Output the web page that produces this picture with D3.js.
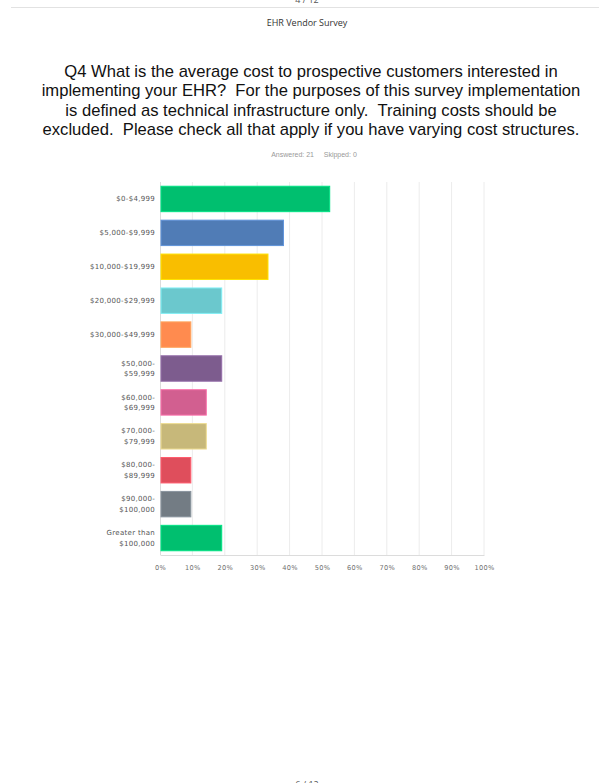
<!DOCTYPE html>
<html>
<head>
<meta charset="utf-8">
<script src="https://cdn.jsdelivr.net/npm/d3@7"></script>
<style>
  body { margin: 0; background: #fff; }
  svg { display: block; }
</style>
</head>
<body>
<script>
//==============================================================================
// DATA
//==============================================================================

// "\n" marks where the label wraps in the original
const categories = [
  '$0-$4,999', '$5,000-$9,999', '$10,000-$19,999', '$20,000-$29,999',
  '$30,000-$49,999', '$50,000-\n$59,999', '$60,000-\n$69,999',
  '$70,000-\n$79,999', '$80,000-\n$89,999', '$90,000-\n$100,000',
  'Greater than\n$100,000'
];
const values = [52.38, 38.10, 33.33, 19.05, 9.52, 19.05, 14.29, 14.29, 9.52, 9.52, 19.05];
const colors = ['#00bf6f', '#507cb6', '#f9be00', '#6bc8cd', '#ff8b4f', '#7d5c8e',
  '#d25f90', '#c7b87a', '#df4e5c', '#737c84', '#00bf6f'];
const ticks = [0, 10, 20, 30, 40, 50, 60, 70, 80, 90, 100];

const titleLines = [
  'Q4 What is the average cost to prospective customers interested in',
  'implementing your EHR?  For the purposes of this survey implementation',
  'is defined as technical infrastructure only.  Training costs should be',
  'excluded.  Please check all that apply if you have varying cost structures.'
];

//==============================================================================
// PARAMETERS
//==============================================================================

const W = 599, H = 783;
const plot = { left: 160, right: 484, top: 182, bottom: 555 };
const labelFont = '"DejaVu Sans", sans-serif';

const svg = d3.select('body').append('svg')
  .attr('width', W)
  .attr('height', H);

svg.append('rect').attr('width', W).attr('height', H).attr('fill', '#fff');

const x = d3.scaleLinear().domain([0, 100]).range([plot.left, plot.right]);
const y = d3.scaleBand().domain(categories).range([plot.top, plot.bottom])
  .paddingInner(0.25).paddingOuter(0.125);

//==============================================================================
// PAGE HEADER
//==============================================================================

// page number of the previous page, cut by the top edge as in the scan
svg.append('text')
  .attr('x', 307).attr('y', 3)
  .attr('text-anchor', 'middle')
  .style('font', '9px "Open Sans", sans-serif')
  .attr('fill', '#555')
  .text('4 / 12');

svg.append('line')
  .attr('x1', 11).attr('x2', W).attr('y1', 7.5).attr('y2', 7.5)
  .attr('stroke', '#e2e2e2');

svg.append('text')
  .attr('x', 307).attr('y', 26)
  .attr('text-anchor', 'middle')
  .style('font', '9px "Open Sans", sans-serif')
  .attr('fill', '#333')
  .text('EHR Vendor Survey');

// title
svg.append('text')
  .attr('text-anchor', 'middle')
  .style('font', '16.6px "Liberation Sans", Arial, sans-serif')
  .style('white-space', 'pre')
  .attr('fill', '#111')
  .selectAll('tspan')
  .data(titleLines)
  .enter()
  .append('tspan')
  .attr('x', 311)
  .attr('y', (d, i) => 77 + i * 19.3)
  .text(d => d);

svg.append('text')
  .attr('x', 314).attr('y', 157)
  .attr('text-anchor', 'middle')
  .style('font', '7px "Liberation Sans", Arial, sans-serif')
  .style('white-space', 'pre')
  .attr('fill', '#999')
  .text('Answered: 21     Skipped: 0');

//==============================================================================
// DRAW
//==============================================================================

// grid
svg.append('g')
  .attr('class', 'grid')
  .selectAll('line')
  .data(ticks.slice(1))
  .enter()
  .append('line')
  .attr('x1', d => x(d)).attr('x2', d => x(d))
  .attr('y1', plot.top).attr('y2', plot.bottom)
  .attr('stroke', '#ececec');

// x axis
const xAxis = svg.append('g')
  .attr('class', 'axis axis--x')
  .attr('transform', `translate(0, ${plot.bottom})`)
  .call(d3.axisBottom(x).tickValues(ticks).tickSize(0).tickPadding(10)
    .tickFormat(d => d + '%'));
xAxis.select('.domain').attr('stroke', '#dcdcdc');
xAxis.selectAll('text')
  .style('font-family', labelFont)
  .style('font-size', '6.6px')
  .style('letter-spacing', '0.3px')
  .attr('fill', '#6f6f6f');

// left axis line
svg.append('line')
  .attr('x1', plot.left + 0.5).attr('x2', plot.left + 0.5)
  .attr('y1', plot.top).attr('y2', plot.bottom)
  .attr('stroke', '#dcdcdc');

// bars
svg.append('g')
  .attr('class', 'bars')
  .selectAll('rect')
  .data(values)
  .enter()
  .append('rect')
  .attr('x', x(0) + 1)
  .attr('y', (d, i) => y(categories[i]))
  .attr('width', d => x(d) - x(0) - 1)
  .attr('height', y.bandwidth())
  .attr('fill', (d, i) => colors[i])
  .attr('stroke', (d, i) => d3.color(colors[i]).brighter(0.5))
  .attr('stroke-width', 1);

// category labels
const labels = svg.append('g')
  .attr('class', 'labels')
  .selectAll('text')
  .data(categories)
  .enter()
  .append('text')
  .attr('text-anchor', 'end')
  .style('font-family', labelFont)
  .style('font-size', '7px')
  .style('letter-spacing', '0.3px')
  .attr('fill', '#555');

labels.each(function (d) {
  const lines = d.split('\n');
  const cy = y(d) + y.bandwidth() / 2;
  d3.select(this).selectAll('tspan')
    .data(lines)
    .enter()
    .append('tspan')
    .attr('x', 155)
    .attr('y', (t, i) => cy + 2.5 + (i - (lines.length - 1) / 2) * 10.7)
    .text(t => t);
});

// next page number, cut by the bottom edge as in the scan
svg.append('text')
  .attr('x', 307).attr('y', 788)
  .attr('text-anchor', 'middle')
  .style('font', '9px "Open Sans", sans-serif')
  .attr('fill', '#555')
  .text('6 / 12');
</script>
</body>
</html>
